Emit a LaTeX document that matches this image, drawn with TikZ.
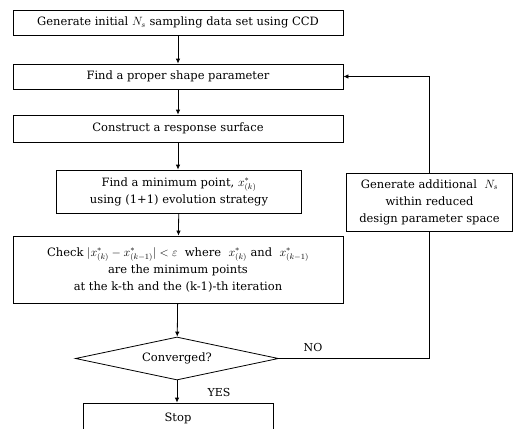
\documentclass[tikz,border=0pt]{standalone}
\usepackage{amsmath,amssymb}
\usepackage{fontspec}
\setmainfont{DejaVu Serif}
\usepackage{tikz}
\usetikzlibrary{positioning,arrows.meta,shapes.geometric,calc}

\begin{document}
\begin{tikzpicture}[
  x=1pt, y=-1pt,
  box/.style={rectangle, draw=black, line width=0.8pt, inner sep=2pt,
              font=\fontsize{11.5}{17}\selectfont, align=center},
  dec/.style={diamond, draw=black, line width=0.8pt, aspect=4.7, inner sep=1pt,
              minimum width=203pt, minimum height=43pt, font=\fontsize{11.5}{17}\selectfont},
  arrow/.style={-{Latex[length=5pt,width=4.5pt]}, line width=0.8pt},
  tag/.style={font=\fontsize{11}{13}\selectfont}
]
\useasboundingbox (0,0) rectangle (515,429);

% Boxes
\node[box, minimum width=330pt, minimum height=25pt] (init) at (178,22.5)
  {Generate initial $N_s$ sampling data set using CCD};
\node[box, minimum width=330pt, minimum height=25pt] (shape) at (178,76.5)
  {Find a proper shape parameter};
\node[box, minimum width=330pt, minimum height=27pt] (surf) at (178,128.5)
  {Construct a response surface};
\node[box, minimum width=245pt, minimum height=43pt] (minpt) at (179,191.5)
  {Find a minimum point, $x^{*}_{(k)}$\\ using (1+1) evolution strategy};
\node[box, minimum width=330pt, minimum height=67pt] (check) at (178,269.5)
  {Check $|x^{*}_{(k)}-x^{*}_{(k-1)}|<\varepsilon$ \ where \ $x^{*}_{(k)}$ and \ $x^{*}_{(k-1)}$\\
   are the minimum points\\ at the k-th and the (k-1)-th iteration};
\node[dec] (conv) at (177,358.5) {Converged?};
\node[box, minimum width=190pt, minimum height=30pt] (stop) at (178,418) {Stop};
\node[box, minimum width=166pt, minimum height=58pt] (addpts) at (429.5,202)
  {Generate additional \ $N_s$\\ within reduced\\ design parameter space};

% Arrows
\draw[arrow] (init) -- (shape);
\draw[arrow] (shape) -- (surf);
\draw[arrow] (surf) -- (check.north |- minpt.north);
\draw[arrow] (minpt) -- (check);
\draw[arrow] (check) -- (conv);
\draw[arrow] (conv.south) -- (stop.north -| conv.south);
\draw[line width=0.8pt] (conv.east) -| (addpts.south);
\draw[arrow] (addpts.north) |- (shape.east);

% Labels
\node[tag] (no) at (313,347) {NO};
\node[tag] (yes) at (219,392) {YES};
\end{tikzpicture}
\end{document}
